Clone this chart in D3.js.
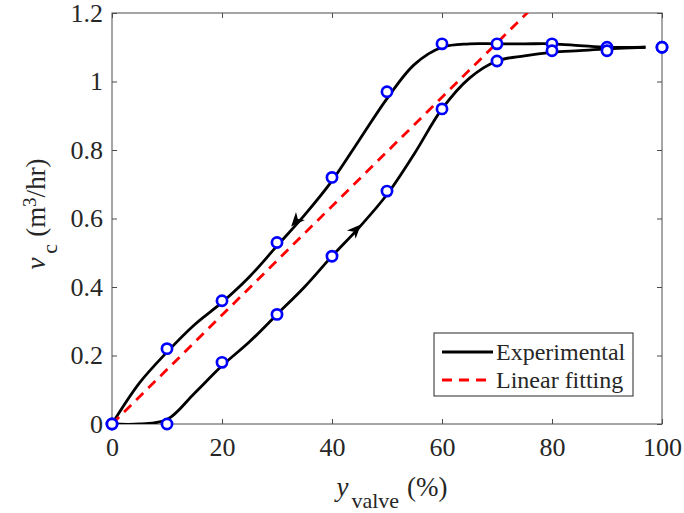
<!DOCTYPE html>
<html>
<head>
<meta charset="utf-8">
<script src="https://cdn.jsdelivr.net/npm/d3@7"></script>
<style>
  body { margin: 0; background: #fff; }
  text { font-family: "Liberation Serif", "Times New Roman", serif; fill: #262626; }
</style>
</head>
<body>
<div id="vis"></div>
<script>
// measured points (valve opening % vs flow)
let valvePct = [0, 10, 20, 30, 40, 50, 60, 70, 80, 90, 100];
let flowDown = [0, 0.22, 0.36, 0.53, 0.72, 0.97, 1.11, 1.11, 1.11, 1.10, 1.10];
let flowUp = [0, 0, 0.18, 0.32, 0.49, 0.68, 0.92, 1.06, 1.09, 1.09, 1.10];

// smooth experimental curves
let curveX = [0, 5, 10, 15, 20, 25, 30, 35, 40, 45, 50, 55, 60, 65, 70, 75, 80, 85, 90, 97];
let curveDown = [0, 0.12, 0.21, 0.29, 0.355, 0.43, 0.52, 0.61, 0.71, 0.83, 0.95, 1.05, 1.10, 1.11, 1.11, 1.11, 1.11, 1.105, 1.10, 1.10];
let curveUp = [0, 0, 0.013, 0.09, 0.17, 0.24, 0.32, 0.40, 0.49, 0.575, 0.67, 0.79, 0.92, 1.01, 1.06, 1.075, 1.085, 1.09, 1.095, 1.10];

// linear fit end points
let fitX = [0, 100];
let fitY = [0, 1.59];

// arrow positions on the loop
let arrowX = [33.3, 44.5];
let arrowY = [0.59, 0.57];
let arrowDir = [-1, 1];

let xTicks = [0, 20, 40, 60, 80, 100];
let yTicks = [0, 0.2, 0.4, 0.6, 0.8, 1, 1.2];

let margin = { top: 13, left: 112, right: 22, bottom: 89 },
  W = 684, H = 513,
  width = W - margin.left - margin.right,
  height = H - margin.top - margin.bottom;

let svg = d3.select('#vis')
  .append('svg')
  .attr('width', W)
  .attr('height', H);

let g = svg.append('g')
  .attr('transform', `translate(${margin.left},${margin.top})`);

let x = d3.scaleLinear().domain([0, 100]).range([0, width]);
let y = d3.scaleLinear().domain([0, 1.2]).range([height, 0]);

svg.append('defs').append('clipPath').attr('id', 'clip')
  .append('rect').attr('width', width).attr('height', height);

// axes with inward ticks on all 4 sides
let axisCol = '#4d4d4d';
function styleAxis(sel) {
  sel.select('.domain').remove();
  sel.selectAll('line').attr('stroke', axisCol);
  sel.selectAll('text').style('font-size', '26px').attr('fill', '#262626');
}
g.append('g')
  .attr('transform', `translate(0,${height})`)
  .call(d3.axisBottom(x).tickValues(xTicks).tickSizeInner(-5).tickSizeOuter(0).tickPadding(14))
  .call(styleAxis)
  .selectAll('text').attr('dy', '0.71em');
g.append('g')
  .call(d3.axisLeft(y).tickValues(yTicks).tickSizeInner(-5).tickSizeOuter(0).tickPadding(9).tickFormat(d3.format('~g')))
  .call(styleAxis);
g.append('g')
  .call(d3.axisTop(x).tickValues(xTicks).tickSizeInner(-5).tickSizeOuter(0).tickFormat(''))
  .call(styleAxis);
g.append('g')
  .attr('transform', `translate(${width},0)`)
  .call(d3.axisRight(y).tickValues(yTicks).tickSizeInner(-5).tickSizeOuter(0).tickFormat(''))
  .call(styleAxis);
g.append('rect')
  .attr('width', width).attr('height', height)
  .attr('fill', 'none').attr('stroke', axisCol).attr('stroke-width', 1);

let plot = g.append('g').attr('clip-path', 'url(#clip)');

// experimental curves
let line = d3.line()
  .x(d => x(d[0]))
  .y(d => y(d[1]))
  .curve(d3.curveCatmullRom.alpha(0.5));

[curveDown, curveUp].forEach(function(c) {
  plot.append('path')
    .datum(curveX.map((v, i) => [v, c[i]]))
    .attr('fill', 'none')
    .attr('stroke', '#000')
    .attr('stroke-width', 2.8)
    .attr('d', line);
});

// linear fitting
plot.append('path')
  .datum(fitX.map((v, i) => [v, fitY[i]]))
  .attr('fill', 'none')
  .attr('stroke', '#ff0000')
  .attr('stroke-width', 2.8)
  .attr('stroke-dasharray', '10,7')
  .attr('d', d3.line().x(d => x(d[0])).y(d => y(d[1])));

// arrow heads
arrowX.forEach(function(ax, i) {
  let c = arrowDir[i] < 0 ? curveDown : curveUp;
  let k = d3.bisectLeft(curveX, ax);
  let dx = x(curveX[k]) - x(curveX[k - 1]);
  let dy = y(c[k]) - y(c[k - 1]);
  let ang = Math.atan2(dy, dx) * 180 / Math.PI + (arrowDir[i] < 0 ? 180 : 0);
  g.append('path')
    .attr('d', 'M6,0 L-8,-6 L-4,0 L-8,6 Z')
    .attr('fill', '#000')
    .attr('transform', `translate(${x(ax)},${y(arrowY[i])}) rotate(${ang})`);
});

// markers
[flowDown, flowUp].forEach(function(s) {
  g.selectAll(null)
    .data(valvePct.map((v, i) => [v, s[i]]))
    .enter()
    .append('circle')
    .attr('cx', d => x(d[0]))
    .attr('cy', d => y(d[1]))
    .attr('r', 5.1)
    .attr('fill', '#fff')
    .attr('stroke', '#0000ff')
    .attr('stroke-width', 2.7);
});

// legend
let lg = g.append('g').attr('transform', `translate(${322},${320})`);
lg.append('rect')
  .attr('width', 199).attr('height', 63)
  .attr('fill', '#fff').attr('stroke', '#262626').attr('stroke-width', 1);
let legendItems = [
  { label: 'Experimental', color: '#000', dash: null },
  { label: 'Linear fitting', color: '#ff0000', dash: '10,7' }
];
legendItems.forEach(function(d, i) {
  let yy = 19 + i * 28;
  lg.append('line')
    .attr('x1', 8).attr('x2', 59).attr('y1', yy).attr('y2', yy)
    .attr('stroke', d.color).attr('stroke-width', 2.8)
    .attr('stroke-dasharray', d.dash);
  lg.append('text')
    .attr('x', 62).attr('y', yy + 8)
    .style('font-size', '24px')
    .text(d.label);
});

// x label
let xl = svg.append('text')
  .attr('x', 392).attr('y', 496)
  .attr('text-anchor', 'middle')
  .style('font-size', '27px');
xl.append('tspan').style('font-style', 'italic').text('y');
xl.append('tspan').attr('dy', 12).attr('dx', 3).style('font-size', '22px').text('valve');
xl.append('tspan').attr('dy', -12).attr('dx', 8).text('(%)');

// y label
let yl = svg.append('text')
  .attr('transform', 'translate(45,214) rotate(-90)')
  .attr('text-anchor', 'middle')
  .style('font-size', '27px');
yl.append('tspan').style('font-style', 'italic').text('v');
yl.append('tspan').attr('dy', 12).attr('dx', 4).style('font-size', '22px').text('c');
yl.append('tspan').attr('dy', -12).attr('dx', 7).text('(m');
yl.append('tspan').attr('dy', -9).style('font-size', '19px').text('3');
yl.append('tspan').attr('dy', 9).text('/hr)');
</script>
</body>
</html>
